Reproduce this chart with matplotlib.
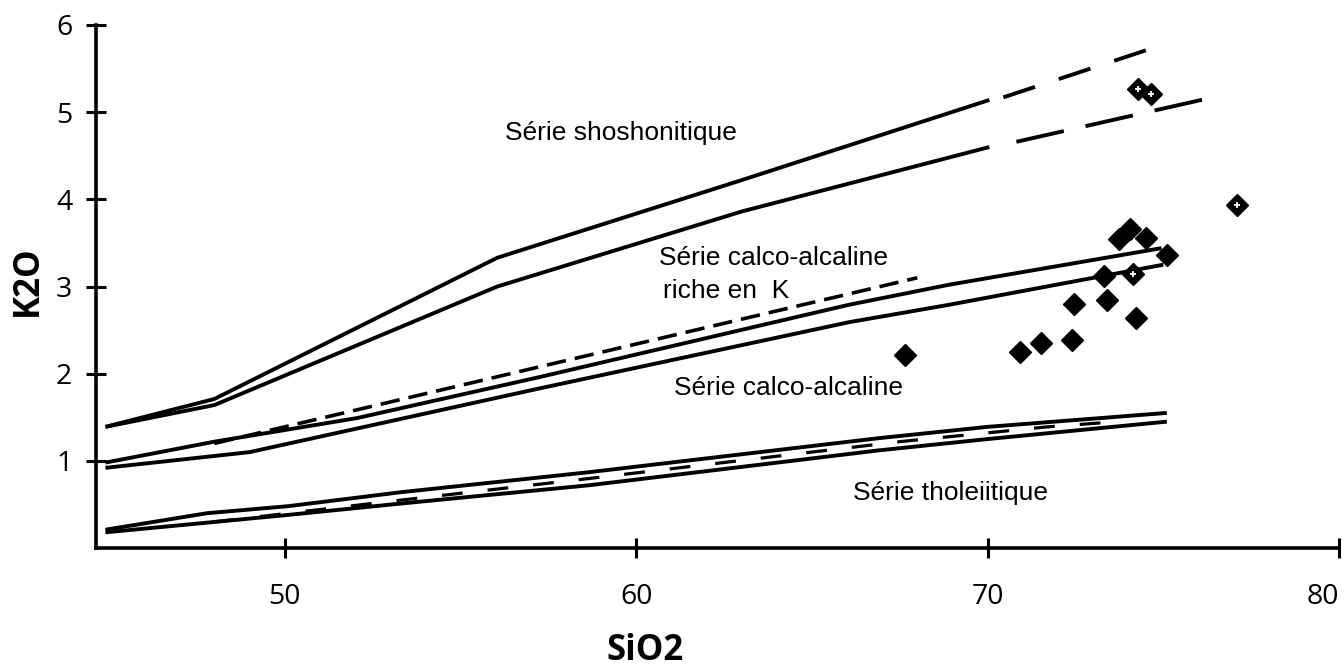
import matplotlib.pyplot as plt

plt.rcParams['lines.scale_dashes'] = False

# -------------------------------------------------------------
# Boundary lines (SiO2 wt%, K2O wt%)
# -------------------------------------------------------------
sho_up_x = [44.9, 48.0, 56.05, 63.0, 70.05]
sho_up_y = [1.39, 1.71, 3.33, 4.22, 5.14]
sho_lo_x = [44.9, 48.0, 56.05, 63.0, 70.05]
sho_lo_y = [1.39, 1.64, 3.00, 3.86, 4.60]

sho_up_ext_x = [70.45, 74.66]
sho_up_ext_y = [5.17, 5.73]
sho_lo_ext_x = [70.82, 76.19]
sho_lo_ext_y = [4.66, 5.15]

ca_up_x = [44.9, 48.0, 52.05, 57.24, 66.05, 68.9, 74.95]
ca_up_y = [0.98, 1.22, 1.49, 1.96, 2.79, 3.02, 3.44]
ca_lo_x = [44.9, 49.0, 57.24, 66.05, 68.9, 75.0]
ca_lo_y = [0.92, 1.10, 1.83, 2.59, 2.79, 3.25]
hk_dash_x = [48.0, 68.0]
hk_dash_y = [1.20, 3.10]

th_up_x = [44.9, 47.8, 50.1, 53.3, 58.66, 66.9, 70.0, 75.1]
th_up_y = [0.21, 0.40, 0.48, 0.64, 0.87, 1.26, 1.39, 1.55]
th_lo_x = [44.9, 50.1, 53.3, 58.66, 66.9, 70.0, 75.1]
th_lo_y = [0.18, 0.38, 0.51, 0.72, 1.12, 1.25, 1.45]
th_dash_x = [48.0, 53.1, 58.5, 67.5, 71.7, 73.7]
th_dash_y = [0.30, 0.54, 0.79, 1.22, 1.39, 1.45]

# samples
filled_x = [73.75, 74.06, 74.52, 75.11, 73.30, 72.47, 73.41, 74.23, 72.39, 71.51, 70.91, 67.64]
filled_y = [3.55, 3.66, 3.56, 3.36, 3.12, 2.80, 2.85, 2.64, 2.39, 2.35, 2.25, 2.22]
dotted_x = [74.29, 74.66, 77.10, 74.15]
dotted_y = [5.26, 5.21, 3.93, 3.14]

# field names
labels = ["Série shoshonitique", "Série calco-alcaline", "riche en  K",
          "Série calco-alcaline", "Série tholeiitique"]
label_x = [56.28, 60.65, 60.77, 61.08, 66.16]
label_y = [4.76, 3.33, 2.95, 1.83, 0.63]

x_ticks = [50, 60, 70, 80]
y_ticks = [1, 2, 3, 4, 5, 6]

# -------------------------------------------------------------
# Figure
# -------------------------------------------------------------
fig = plt.figure(figsize=(13.44, 6.68), dpi=100)
ax = fig.add_axes([0.0714, 0.1796, 0.9249, 0.783])

lw = 2.8
for xs, ys in [(sho_up_x, sho_up_y), (sho_lo_x, sho_lo_y),
               (ca_up_x, ca_up_y), (ca_lo_x, ca_lo_y),
               (th_up_x, th_up_y), (th_lo_x, th_lo_y)]:
    ax.plot(xs, ys, color="black", lw=lw, solid_capstyle="butt")

ax.plot(sho_up_ext_x, sho_up_ext_y, color="black", lw=lw, linestyle=(0, (24, 18)))
ax.plot(sho_lo_ext_x, sho_lo_ext_y, color="black", lw=lw, linestyle=(0, (35, 16)))
ax.plot(hk_dash_x, hk_dash_y, color="black", lw=2.6, linestyle=(0, (14, 6.5)))
ax.plot(th_dash_x, th_dash_y, color="black", lw=2.3, linestyle=(0, (15, 18)))

ax.plot(filled_x, filled_y, linestyle="none", marker="D", ms=11,
        color="black", mec="black", mew=1)
ax.plot(dotted_x, dotted_y, linestyle="none", marker="D", ms=11,
        color="black", mec="black", mew=1)
ax.plot(dotted_x, dotted_y, linestyle="none", marker="+", ms=4.5,
        color="white", mew=1.3)

for txt, tx, ty in zip(labels, label_x, label_y):
    ax.text(tx, ty, txt, fontsize=19, family="Liberation Sans",
            ha="left", va="center")

ax.set_xlim(44.63, 80)
ax.set_ylim(0, 6)
ax.set_xticks(x_ticks)
ax.set_yticks(y_ticks)
ax.set_xticklabels([str(v) for v in x_ticks], family="Open Sans", fontsize=20.5)
ax.set_yticklabels([str(v) for v in y_ticks], family="Open Sans", fontsize=20.5)
ax.get_xticklabels()[-1].set_horizontalalignment("right")
ax.tick_params(axis="both", direction="inout", length=14, width=2.2)
ax.tick_params(axis="x", pad=18)
ax.tick_params(axis="y", pad=10)

for side in ["top", "right"]:
    ax.spines[side].set_visible(False)
for side in ["left", "bottom"]:
    ax.spines[side].set_linewidth(2.6)

ax.set_xlabel("SiO2", family="Open Sans", fontweight="bold", fontsize=25, va="center")
ax.set_ylabel("K2O", family="Open Sans", fontweight="bold", fontsize=25, va="center")
ax.xaxis.set_label_coords(0.442, -0.197)
ax.yaxis.set_label_coords(-0.0547, 0.512)

fig.savefig("out.png", dpi=100)
